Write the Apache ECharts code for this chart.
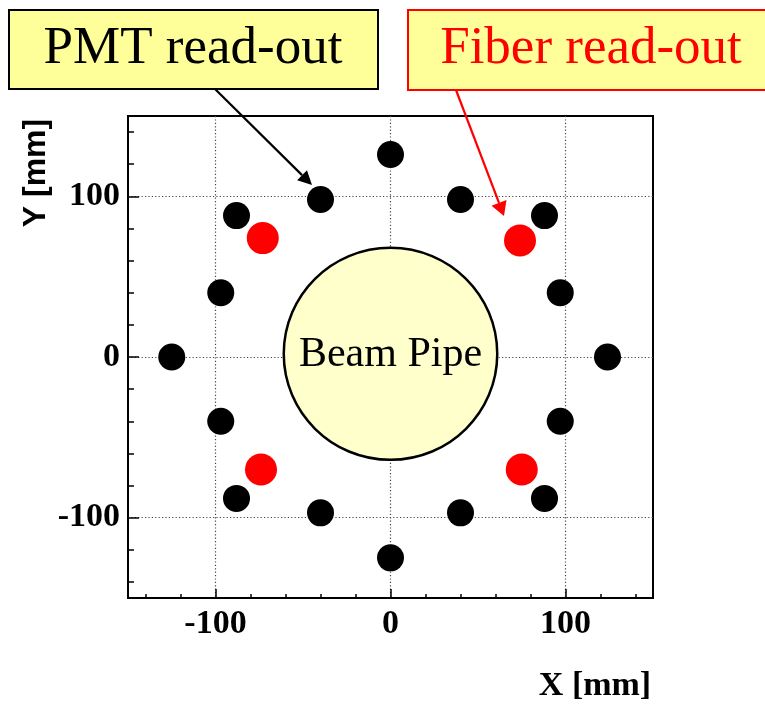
<!DOCTYPE html>
<html>
<head>
<meta charset="utf-8">
<script src="https://cdn.jsdelivr.net/npm/echarts@6/dist/echarts.min.js"></script>
<style>
  html, body { margin: 0; padding: 0; background: #fff; }
  #chart { width: 765px; height: 704px; }
</style>
</head>
<body>
<div id="chart"></div>
<script>
// PMT read-out counters (mm)
const pmtX = [0, 40, 88, 97, 124, 97, 88, 40, 0, -40, -88, -97, -125, -97, -88, -40];
const pmtY = [126, 98, 88, 40, 0, -40, -88, -97, -125, -97, -88, -40, 0, 40, 88, 98];

// Fiber read-out counters (mm)
const fiberX = [-73, 74, -74, 75];
const fiberY = [74, 72.5, -70, -70];

// Beam pipe: centre and half-extent along X and Y (mm)
const beamPipeCentre = [0, 2];
const beamPipeHalf = [61, 66];

// Axis range and tick positions (mm)
const axisMin = -150;
const axisMax = 150;
const majorTicks = [-100, 0, 100];
const minorTicks = [-140, -120, -80, -60, -40, -20, 20, 40, 60, 80, 120, 140];

const serif = "'Liberation Serif', 'Times New Roman', serif";
const sans = "'Liberation Sans', Arial, sans-serif";

const chart = echarts.init(document.getElementById('chart'), null, { renderer: 'canvas' });

function majorAxis(position, tickLen, labelMargin) {
  return {
    type: 'value', position: position, min: axisMin, max: axisMax, interval: 50,
    axisLine: { show: false, onZero: false },
    axisTick: { show: true, inside: true, length: tickLen, customValues: majorTicks,
      lineStyle: { color: '#000', width: 1.5 } },
    axisLabel: { show: true, customValues: majorTicks, margin: labelMargin,
      fontFamily: serif, fontWeight: 'bold', fontSize: 34, color: '#000' },
    splitLine: { show: true, lineStyle: { color: '#444', width: 1.2, type: [1.2, 2.2] } },
    minorTick: { show: false }
  };
}

function minorAxis(position, tickLen) {
  return {
    type: 'value', position: position, min: axisMin, max: axisMax, interval: 50,
    axisLine: { show: false, onZero: false },
    axisTick: { show: true, inside: true, length: tickLen, customValues: minorTicks,
      lineStyle: { color: '#000', width: 1.5 } },
    axisLabel: { show: false },
    splitLine: { show: false }
  };
}

// Arrow from (x1,y1) to tip (x2,y2) with a filled head
function arrow(x1, y1, x2, y2, color, headLen, headHalf) {
  const dx = x2 - x1, dy = y2 - y1;
  const len = Math.sqrt(dx * dx + dy * dy);
  const ux = dx / len, uy = dy / len;
  const bx = x2 - ux * headLen, by = y2 - uy * headLen;
  const px = -uy * headHalf, py = ux * headHalf;
  return [
    { type: 'line', shape: { x1: x1, y1: y1, x2: bx, y2: by },
      style: { stroke: color, lineWidth: 2.2 }, z: 100 },
    { type: 'polygon', shape: { points: [[x2, y2], [bx + px, by + py], [bx - px, by - py]] },
      style: { fill: color }, z: 100 }
  ];
}

const option = {
  backgroundColor: '#fff',
  animation: false,
  grid: { left: 128, top: 116, width: 525, height: 482, show: true,
    borderColor: '#000', borderWidth: 2, backgroundColor: 'transparent' },
  xAxis: [majorAxis('bottom', 9, 9), minorAxis('bottom', 4)],
  yAxis: [majorAxis('left', 11, 8), minorAxis('left', 6)],
  series: [
    {
      type: 'custom',
      xAxisIndex: 0, yAxisIndex: 0,
      encode: { x: 0, y: 1 },
      data: [[beamPipeCentre[0], beamPipeCentre[1], beamPipeHalf[0], beamPipeHalf[1]]],
      renderItem: function (params, api) {
        const c = api.coord([api.value(0), api.value(1)]);
        const s = api.size([api.value(2), api.value(3)]);
        return {
          type: 'group',
          children: [
            { type: 'ellipse', shape: { cx: c[0], cy: c[1], rx: s[0], ry: s[1] },
              style: { fill: '#ffffcc', stroke: '#000', lineWidth: 2.5 } },
            { type: 'text', x: c[0], y: c[1] + 1,
              style: { text: 'Beam Pipe', align: 'center', verticalAlign: 'middle',
                font: '42px ' + serif, fill: '#000' } }
          ]
        };
      },
      z: 2
    },
    {
      name: 'PMT read-out', type: 'scatter', xAxisIndex: 0, yAxisIndex: 0,
      symbol: 'circle', symbolSize: 27,
      itemStyle: { color: '#000', opacity: 1 },
      data: pmtX.map((x, i) => [x, pmtY[i]]),
      z: 3
    },
    {
      name: 'Fiber read-out', type: 'scatter', xAxisIndex: 0, yAxisIndex: 0,
      symbol: 'circle', symbolSize: 32,
      itemStyle: { color: '#ff0000', opacity: 1 },
      data: fiberX.map((x, i) => [x, fiberY[i]]),
      z: 3
    }
  ],
  graphic: [
    // PMT label box
    { type: 'rect', shape: { x: 9, y: 10, width: 369, height: 79 },
      style: { fill: '#ffff99', stroke: '#000', lineWidth: 2 }, z: 100 },
    { type: 'text', x: 193, y: 49,
      style: { text: 'PMT read-out', align: 'center', verticalAlign: 'middle',
        font: '53px ' + serif, fill: '#000' }, z: 101 },
    // Fiber label box
    { type: 'rect', shape: { x: 408, y: 10, width: 370, height: 80 },
      style: { fill: '#ffff99', stroke: '#ff0000', lineWidth: 2 }, z: 100 },
    { type: 'text', x: 591, y: 49,
      style: { text: 'Fiber read-out', align: 'center', verticalAlign: 'middle',
        font: '53px ' + serif, fill: '#ff0000' }, z: 101 },
    ...arrow(215, 89, 312, 185, '#000', 14, 7),
    ...arrow(456, 90, 504, 216, '#ff0000', 14, 8),
    // Axis titles
    { type: 'text', x: 595, y: 686,
      style: { text: 'X [mm]', align: 'center', verticalAlign: 'middle',
        font: 'bold 34px ' + serif, fill: '#000' }, z: 100 },
    { type: 'text', x: 36, y: 173, rotation: Math.PI / 2,
      style: { text: 'Y [mm]', align: 'center', verticalAlign: 'middle',
        font: 'bold 32px ' + sans, fill: '#000' }, z: 100 }
  ]
};

chart.setOption(option);
</script>
</body>
</html>
